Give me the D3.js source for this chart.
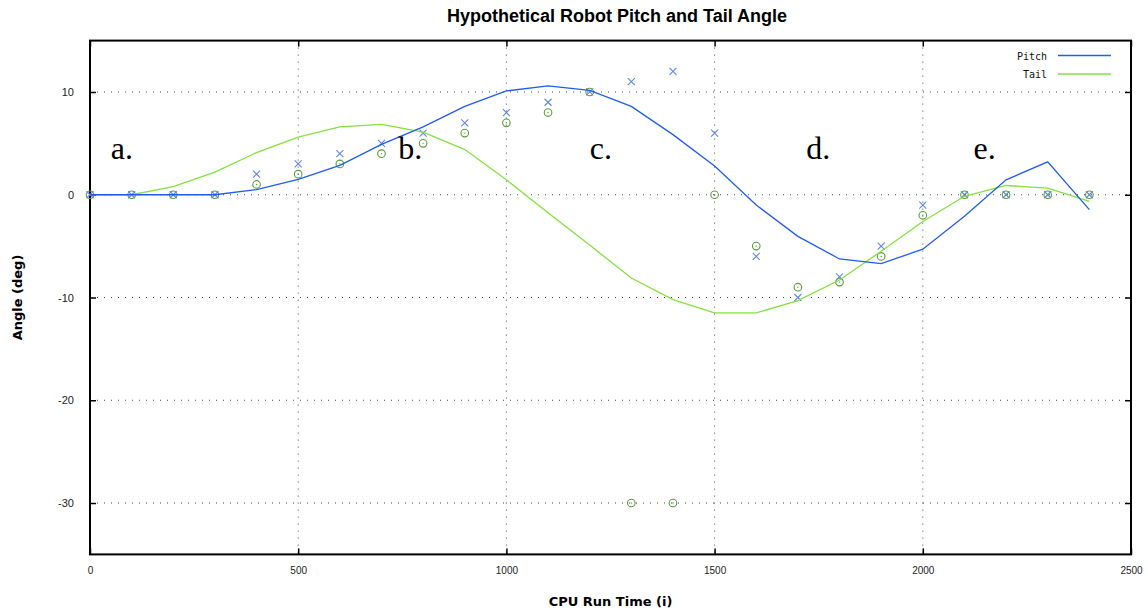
<!DOCTYPE html>
<html>
<head>
<meta charset="utf-8">
<script src="https://cdn.jsdelivr.net/npm/d3@7"></script>
<style>
  html, body { margin: 0; padding: 0; background: #fff; }
  .chart { width: 1148px; height: 613px; }
</style>
</head>
<body>
<div class="chart"></div>
<script>
// 資料
const runTime = [0, 100, 200, 300, 400, 500, 600, 700, 800, 900, 1000, 1100, 1200,
  1300, 1400, 1500, 1600, 1700, 1800, 1900, 2000, 2100, 2200, 2300, 2400];
const pitchLine = [0, 0, 0, 0, 0.5, 1.5, 2.85, 4.9, 6.6, 8.6, 10.1, 10.6, 10.15,
  8.6, 5.85, 2.8, -1.0, -4.05, -6.25, -6.7, -5.3, -2.1, 1.45, 3.2, -1.45];
const tailLine = [0, 0, 0.8, 2.2, 4.1, 5.6, 6.6, 6.85, 6.1, 4.4, 1.45, -1.75, -4.9,
  -8.1, -10.2, -11.5, -11.5, -10.3, -8.3, -5.5, -2.6, -0.15, 0.9, 0.65, -0.65];
const pitchPts = [0, 0, 0, 0, 2, 3, 4, 5, 6, 7, 8, 9, 10,
  11, 12, 6, -6, -10, -8, -5, -1, 0, 0, 0, 0];
const tailPts = [0, 0, 0, 0, 1, 2, 3, 4, 5, 6, 7, 8, 10,
  -30, -30, 0, -5, -9, -8.5, -6, -2, 0, 0, 0, 0];
const xTicks = [0, 500, 1000, 1500, 2000, 2500];
const yTicks = [10, 0, -10, -20, -30];
const notes = [
  { label: 'a.', x: 50, y: 3.45 },
  { label: 'b.', x: 740, y: 3.45 },
  { label: 'c.', x: 1200, y: 3.45 },
  { label: 'd.', x: 1720, y: 3.45 },
  { label: 'e.', x: 2122, y: 3.45 }
];

let canvas = {
  svg: {},
  config: {
    svgW: 1148,
    svgH: 613,
    left: 90,
    right: 1131,
    top: 40.6,
    bottom: 554.4,
    pitchColor: '#1f5cf2',
    tailColor: '#84e23e',
    crossColor: '#5f86f0',
    circleColor: '#5a9c3c'
  },
  init: function () {
    this.svg = d3.select('.chart').append('svg')
      .attr('width', this.config.svgW)
      .attr('height', this.config.svgH)
      .attr('font-family', '"Liberation Sans", Arial, sans-serif');
    this.x = d3.scaleLinear().domain([0, 2500]).range([this.config.left, this.config.right]);
    this.y = d3.scaleLinear().domain([-35, 15]).range([this.config.bottom, this.config.top]);
    this.grid();
    this.rendor();
    this.labels();
  },
  grid: function () {
    let x = this.x, y = this.y, c = this.config;
    // 格線 (虛點)
    let g = this.svg.append('g').attr('class', 'grid');
    g.selectAll('line.gx')
      .data(xTicks.filter(d => d > 0 && d < 2500))
      .enter().append('line')
      .attr('x1', d => x(d)).attr('x2', d => x(d))
      .attr('y1', c.top).attr('y2', c.bottom)
      .attr('stroke', '#444').attr('stroke-width', 1)
      .attr('stroke-dasharray', '1,6');
    g.selectAll('line.gy')
      .data(yTicks)
      .enter().append('line')
      .attr('y1', d => y(d)).attr('y2', d => y(d))
      .attr('x1', c.left).attr('x2', c.right)
      .attr('stroke', '#444').attr('stroke-width', 1)
      .attr('stroke-dasharray', '1,6');

    // 軸 (刻度向內)
    let axB = this.svg.append('g').attr('transform', `translate(0,${c.bottom})`)
      .call(d3.axisBottom(x).tickValues(xTicks).tickFormat(d3.format('d'))
        .tickSizeInner(-6).tickSizeOuter(0).tickPadding(13));
    let axT = this.svg.append('g').attr('transform', `translate(0,${c.top})`)
      .call(d3.axisTop(x).tickValues(xTicks).tickSizeInner(-6).tickSizeOuter(0).tickFormat(''));
    let axL = this.svg.append('g').attr('transform', `translate(${c.left},0)`)
      .call(d3.axisLeft(y).tickValues(yTicks).tickSizeInner(-6).tickSizeOuter(0).tickPadding(16));
    let axR = this.svg.append('g').attr('transform', `translate(${c.right},0)`)
      .call(d3.axisRight(y).tickValues(yTicks).tickSizeInner(-6).tickSizeOuter(0).tickFormat(''));
    [axB, axT, axL, axR].forEach(function (a) {
      a.select('.domain').remove();
      a.selectAll('.tick line').attr('stroke', '#000').attr('stroke-width', 1.5);
    });
    axB.attr('font-family', '"Liberation Sans Narrow", "Liberation Sans", sans-serif')
      .attr('font-size', 10);
    axB.selectAll('.tick text').attr('fill', '#222');
    axL.attr('font-family', '"Liberation Sans", sans-serif').attr('font-size', 11);
    axL.selectAll('.tick text')
      .attr('fill', '#222')
      .text(d => d < 0 ? '-' + Math.abs(d) : d);

    // 外框
    this.svg.append('rect')
      .attr('x', c.left).attr('y', c.top)
      .attr('width', c.right - c.left).attr('height', c.bottom - c.top)
      .attr('fill', 'none').attr('stroke', '#000').attr('stroke-width', 2);
  },
  rendor: function () {
    let x = this.x, y = this.y, c = this.config;
    let line = d3.line().x(d => x(d[0])).y(d => y(d[1]));

    // 資料點
    this.svg.append('g').attr('class', 'cross')
      .selectAll('path')
      .data(d3.zip(runTime, pitchPts))
      .enter().append('path')
      .attr('transform', d => `translate(${x(d[0])},${y(d[1])})`)
      .attr('d', 'M-3.5,-3.5L3.5,3.5M-3.5,3.5L3.5,-3.5')
      .attr('stroke', c.crossColor).attr('stroke-width', 1.1).attr('fill', 'none');

    let circ = this.svg.append('g').attr('class', 'circ')
      .selectAll('g')
      .data(d3.zip(runTime, tailPts))
      .enter().append('g')
      .attr('transform', d => `translate(${x(d[0])},${y(d[1])})`);
    circ.append('circle').attr('r', 3.8)
      .attr('fill', 'none').attr('stroke', c.circleColor).attr('stroke-width', 1.1);
    circ.append('circle').attr('r', 0.7).attr('fill', c.circleColor);

    // 曲線
    this.svg.append('path')
      .datum(d3.zip(runTime, tailLine))
      .attr('d', line)
      .attr('fill', 'none').attr('stroke', c.tailColor).attr('stroke-width', 1.3);
    this.svg.append('path')
      .datum(d3.zip(runTime, pitchLine))
      .attr('d', line)
      .attr('fill', 'none').attr('stroke', c.pitchColor).attr('stroke-width', 1.3);

    // 標示 a. ~ e.
    this.svg.append('g')
      .attr('font-family', '"Liberation Serif", "Times New Roman", serif')
      .attr('font-size', 32)
      .selectAll('text')
      .data(notes)
      .enter().append('text')
      .attr('x', d => x(d.x)).attr('y', d => y(d.y))
      .attr('fill', '#000')
      .text(d => d.label);
  },
  labels: function () {
    let c = this.config;
    this.svg.append('text')
      .attr('x', 617).attr('y', 22)
      .attr('text-anchor', 'middle')
      .attr('font-size', 18).attr('font-weight', 'bold')
      .text('Hypothetical Robot Pitch and Tail Angle');
    this.svg.append('text')
      .attr('x', (c.left + c.right) / 2).attr('y', 606)
      .attr('text-anchor', 'middle')
      .attr('font-family', '"DejaVu Sans", sans-serif')
      .attr('font-size', 13).attr('font-weight', 'bold')
      .text('CPU Run Time (i)');
    this.svg.append('text')
      .attr('transform', `translate(22,${(c.top + c.bottom) / 2}) rotate(-90)`)
      .attr('text-anchor', 'middle')
      .attr('font-family', '"DejaVu Sans", sans-serif')
      .attr('font-size', 13).attr('font-weight', 'bold')
      .text('Angle (deg)');

    // 圖例
    let legend = [{ name: 'Pitch', color: c.pitchColor }, { name: 'Tail', color: c.tailColor }];
    let lg = this.svg.append('g')
      .attr('font-family', '"DejaVu Sans Mono", monospace')
      .attr('font-size', 10)
      .selectAll('g')
      .data(legend)
      .enter().append('g')
      .attr('transform', (d, i) => `translate(0,${55.5 + i * 18.5})`);
    lg.append('text')
      .attr('x', 1047).attr('y', 4)
      .attr('text-anchor', 'end')
      .attr('fill', '#111')
      .text(d => d.name);
    lg.append('line')
      .attr('x1', 1058).attr('x2', 1111)
      .attr('stroke', d => d.color).attr('stroke-width', 1.3);
  }
};

canvas.init();
</script>
</body>
</html>
